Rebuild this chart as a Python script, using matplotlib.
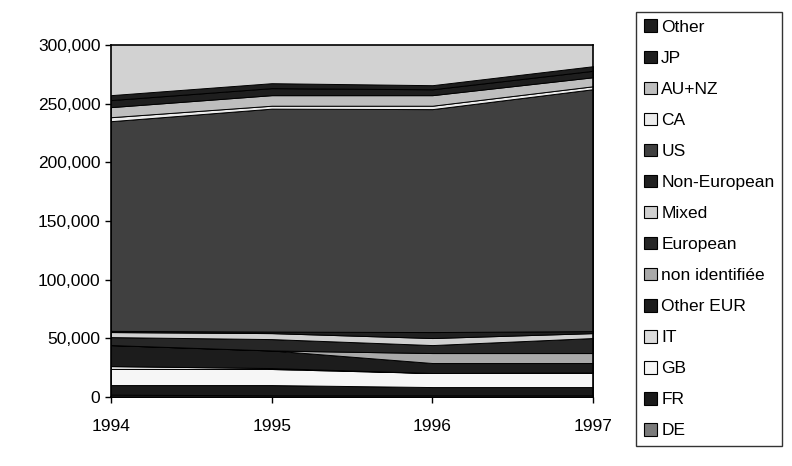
import matplotlib
matplotlib.use('Agg')
import matplotlib.pyplot as plt
from matplotlib.ticker import FuncFormatter
from matplotlib.patches import Patch

# DATI (immatricolazioni per origine, valori cumulati a pila)
years = [1994, 1995, 1996, 1997]

DE = [2000, 1500, 1500, 1500]
FR = [8200, 8700, 7000, 7000]
GB = [13700, 13700, 12000, 12000]
IT = [2500, 800, 0, 500]
other_eur = [17900, 15000, 8500, 8000]
non_ident = [0, 0, 8500, 8500]
european = [6800, 9700, 6800, 12800]
mixed = [4300, 5100, 6000, 4200]
non_european = [1000, 1300, 5100, 1700]
US = [178800, 190100, 190100, 206300]
CA = [3400, 2500, 2900, 2500]
AU_NZ = [8600, 9000, 9000, 7700]
JP = [6000, 6000, 5000, 5500]
other = [4200, 4200, 3500, 3900]

labels = ['DE', 'FR', 'GB', 'IT', 'Other EUR', 'non identifiée', 'European',
          'Mixed', 'Non-European', 'US', 'CA', 'AU+NZ', 'JP', 'Other']

# toni di grigio (stampa in bianco e nero)
colors = ['#7a7a7a', '#1a1a1a', '#f6f6f6', '#dcdcdc', '#1c1c1c', '#a9a9a9',
          '#262626', '#d0d0d0', '#202020', '#404040', '#ececec', '#bebebe',
          '#1e1e1e', '#1e1e1e']


def main():
    plt.rcParams['font.family'] = ['Liberation Sans', 'DejaVu Sans']

    series = [DE, FR, GB, IT, other_eur, non_ident, european, mixed,
              non_european, US, CA, AU_NZ, JP, other]

    fig = plt.figure(figsize=(7.92, 4.66), dpi=100)
    ax = fig.add_axes([0.140, 0.148, 0.609, 0.755])
    ax.set_facecolor('#d2d2d2')

    ax.stackplot(years, *series, colors=colors, edgecolor='black',
                 linewidth=0.7)

    ax.set_xlim(1994, 1997)
    ax.set_ylim(0, 300000)
    ax.set_xticks(years)
    ax.set_yticks(range(0, 300001, 50000))
    ax.yaxis.set_major_formatter(FuncFormatter(lambda v, p: f'{int(v):,}'))
    ax.tick_params(axis='both', labelsize=12.5, direction='out', length=4,
                   width=1)
    ax.tick_params(axis='x', pad=12)
    for s in ax.spines.values():
        s.set_linewidth(1.2)

    # Legenda in ordine inverso (ultima serie in alto)
    handles = [Patch(facecolor=c, edgecolor='black', linewidth=0.8)
               for c in colors]
    leg = fig.legend(handles[::-1], labels[::-1], loc='upper left',
                     bbox_to_anchor=(0.803, 0.975), fontsize=12.5,
                     frameon=True, fancybox=False, edgecolor='black',
                     handlelength=0.75, handleheight=0.75,
                     handletextpad=0.25, labelspacing=0.9,
                     borderpad=0.45, borderaxespad=0)
    leg.get_frame().set_linewidth(1.0)

    fig.savefig('out.png', dpi=100, facecolor='white')


if __name__ == "__main__":
    main()
